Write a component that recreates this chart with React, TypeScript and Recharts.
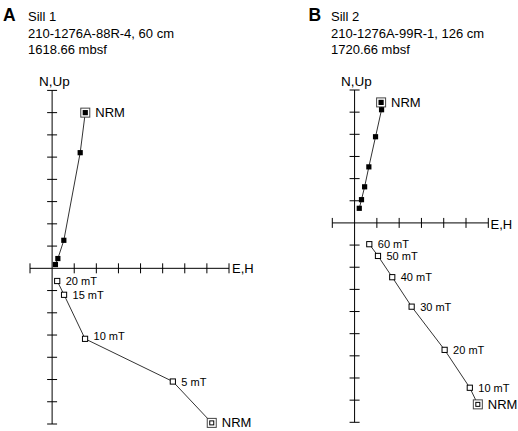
import React from "react";
import { ScatterChart, Scatter, XAxis, YAxis, ReferenceLine } from "recharts";

// Sill 1 (210-1276A-88R-4, 60 cm) demagnetization steps
const sill1Steps = ["NRM", "5 mT", "10 mT", "15 mT", "20 mT"];
const sill1East = [1.5, 1.27, 0.53, 0.26, 0.15];
const sill1North = [7.0, 5.2, 1.26, 0.44, 0.17];
const sill1Horiz = [7.22, 5.46, 1.49, 0.54, 0.23];
const sill1Up = [-6.95, -5.09, -3.17, -1.19, -0.57];

// Sill 2 (210-1276A-99R-1, 126 cm)
const sill2Steps = ["NRM", "10 mT", "20 mT", "30 mT", "40 mT", "50 mT", "60 mT"];
const sill2East = [1.19, 1.21, 0.94, 0.64, 0.45, 0.31, 0.21];
const sill2North = [5.44, 5.11, 3.89, 2.53, 1.63, 1.05, 0.66];
const sill2Horiz = [5.53, 5.17, 4.04, 2.56, 1.69, 1.05, 0.66];
const sill2Up = [-8.19, -7.44, -5.73, -3.78, -2.45, -1.49, -0.96];

// axis extents in tick units
const sill1XTicks = [-1, 1, 2, 3, 4, 5, 6, 7, 8];
const sill1YTicks = [-7, -6, -5, -4, -3, -2, -1, 1, 2, 3, 4, 5, 6, 7, 8];
const sill2XTicks = [-1, 1, 2, 3, 4, 5, 6];
const sill2YTicks = [-9, -8, -7, -6, -5, -4, -3, -2, -1, 1, 2, 3, 4, 5, 6];

const FONT = "'Liberation Sans', Arial, Helvetica, sans-serif";
const TICK = 0.225;

type Pt = { x: number; y: number; step: string; filled: boolean; lift: number };

const build = (steps: string[], xs: number[], ys: number[], filled: boolean, lifted: string[] = []): Pt[] =>
  steps.map((s, i) => ({ x: xs[i], y: ys[i], step: s, filled, lift: lifted.includes(s) ? 3 : 0 }));

const Square = (props: any) => {
  const { cx, cy, payload } = props;
  if (cx == null || cy == null) return null;
  const isNrm = payload.step === "NRM";
  const showLabel = isNrm || !payload.filled;
  return (
    <g>
      {isNrm && (
        <rect x={cx - 4.5} y={cy - 4.5} width={9} height={9} fill="#fff" stroke="#444" strokeWidth={1} />
      )}
      {payload.filled ? (
        <rect x={cx - 2.6} y={cy - 2.6} width={5.2} height={5.2} fill="#000" />
      ) : (
        <rect
          x={cx - (isNrm ? 2 : 2.6)}
          y={cy - (isNrm ? 2 : 2.6)}
          width={isNrm ? 4 : 5.2}
          height={isNrm ? 4 : 5.2}
          fill="#fff"
          stroke="#000"
          strokeWidth={1}
        />
      )}
      {showLabel && (
        <text
          x={cx + (isNrm ? 10 : 8.5)}
          y={cy - payload.lift}
          dominantBaseline="central"
          fontSize={isNrm ? 13 : 11}
          fontFamily={FONT}
          fill="#000"
        >
          {payload.step}
        </text>
      )}
    </g>
  );
};

interface PanelProps {
  left: number;
  width: number;
  margin: { top: number; right: number; bottom: number; left: number };
  xDomain: [number, number];
  yDomain: [number, number];
  xTicks: number[];
  yTicks: number[];
  horizontal: Pt[];
  vertical: Pt[];
}

const Panel: React.FC<PanelProps> = ({ left, width, margin, xDomain, yDomain, xTicks, yTicks, horizontal, vertical }) => (
  <div style={{ position: "absolute", left, top: 0 }}>
    <ScatterChart width={width} height={431} margin={margin} style={{ overflow: "visible" }}>
      <XAxis type="number" dataKey="x" domain={xDomain} hide />
      <YAxis type="number" dataKey="y" domain={yDomain} hide />
      <ReferenceLine x={0} stroke="#000" strokeWidth={1} />
      <ReferenceLine y={0} stroke="#000" strokeWidth={1} />
      {xTicks.map((t) => (
        <ReferenceLine key={`xt${t}`} segment={[{ x: t, y: -TICK }, { x: t, y: TICK }]} stroke="#000" />
      ))}
      {yTicks.map((t) => (
        <ReferenceLine key={`yt${t}`} segment={[{ x: -TICK, y: t }, { x: TICK, y: t }]} stroke="#000" />
      ))}
      <Scatter data={horizontal} line={{ stroke: "#333", strokeWidth: 1 }} shape={Square} isAnimationActive={false} />
      <Scatter data={vertical} line={{ stroke: "#333", strokeWidth: 1 }} shape={Square} isAnimationActive={false} />
    </ScatterChart>
  </div>
);

export default function App() {
  return (
    <div style={{ position: "absolute", left: 0, top: 0, width: 518, height: 431, background: "#fff" }}>
      <Panel
        left={0}
        width={259}
        margin={{ top: 90.4, right: 30, bottom: 7, left: 30 }}
        xDomain={[-1, 8]}
        yDomain={[-7, 8]}
        xTicks={sill1XTicks}
        yTicks={sill1YTicks}
        horizontal={build(sill1Steps, sill1East, sill1North, true)}
        vertical={build(sill1Steps, sill1Horiz, sill1Up, false, ["10 mT"])}
      />
      <Panel
        left={259}
        width={259}
        margin={{ top: 90, right: 29.7, bottom: 8.7, left: 73.3 }}
        xDomain={[-1, 6]}
        yDomain={[-9, 6]}
        xTicks={sill2XTicks}
        yTicks={sill2YTicks}
        horizontal={build(sill2Steps, sill2East, sill2North, true)}
        vertical={build(sill2Steps, sill2Horiz, sill2Up, false)}
      />
      <svg
        width={518}
        height={431}
        style={{ position: "absolute", left: 0, top: 0, pointerEvents: "none" }}
        fontFamily={FONT}
      >
        <text x={3} y={20.5} fontSize={17.5} fontWeight="bold">A</text>
        <text x={28} y={21} fontSize={13}>Sill 1</text>
        <text x={28} y={37.5} fontSize={13}>210-1276A-88R-4, 60 cm</text>
        <text x={28} y={54} fontSize={13}>1618.66 mbsf</text>
        <text x={39} y={86} fontSize={13.5}>N,Up</text>
        <text x={232} y={272.7} fontSize={13}>E,H</text>

        <text x={308.5} y={20.5} fontSize={17.5} fontWeight="bold">B</text>
        <text x={331} y={21} fontSize={13}>Sill 2</text>
        <text x={331} y={37.5} fontSize={13}>210-1276A-99R-1, 126 cm</text>
        <text x={331} y={54} fontSize={13}>1720.66 mbsf</text>
        <text x={341} y={86} fontSize={13.5}>N,Up</text>
        <text x={490.5} y={228.7} fontSize={13}>E,H</text>
      </svg>
    </div>
  );
}
